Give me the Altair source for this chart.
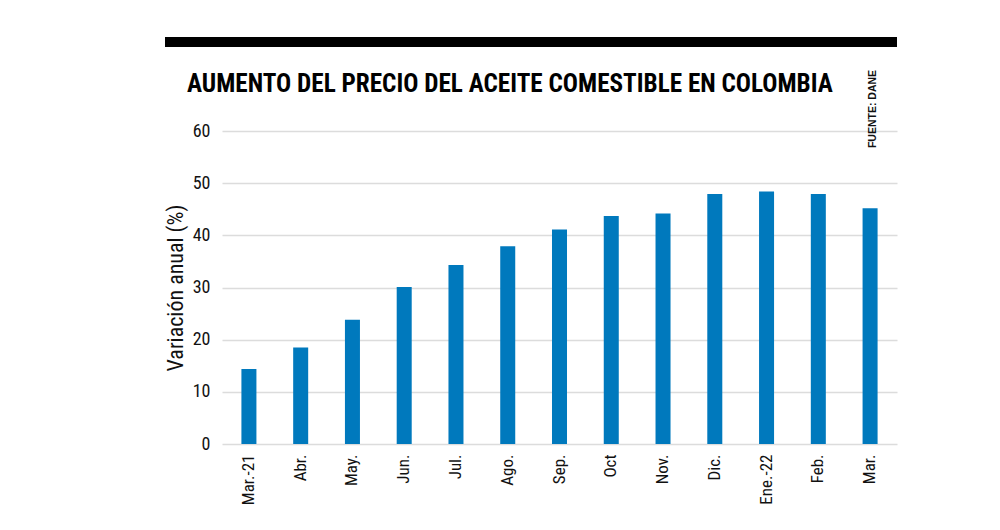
import altair as alt
import pandas as pd

months = ["Mar.-21", "Abr.", "May.", "Jun.", "Jul.", "Ago.", "Sep.", "Oct", "Nov.",
          "Dic.", "Ene.-22", "Feb.", "Mar."]
values = [14.4, 18.5, 23.8, 30.1, 34.3, 37.9, 41.1, 43.7, 44.2, 47.9, 48.4, 47.9, 45.2]
title_text = ["AUMENTO DEL PRECIO DEL ACEITE COMESTIBLE EN COLOMBIA"]
source_text = ["FUENTE: DANE"]
y_title = "Variación anual (%)"

df = pd.DataFrame({"mes": months, "valor": values})

COND = "Roboto Condensed"
BLUE = "#0079bd"

bars = alt.Chart(df).mark_bar(color=BLUE).encode(
    x=alt.X("mes:N", sort=months,
            scale=alt.Scale(paddingInner=0.71, paddingOuter=0.375),
            axis=alt.Axis(title=None, labelAngle=-90, labelFont=COND, labelFontSize=17,
                          labelColor="#111", labelPadding=10, ticks=False, domain=False,
                          labelBaseline="middle", labelAlign="right")),
    y=alt.Y("valor:Q", scale=alt.Scale(domain=[0, 60]),
            axis=alt.Axis(values=[0, 10, 20, 30, 40, 50, 60], title=y_title,
                          titleFont=COND, titleFontSize=22, titleFontWeight="normal",
                          titleColor="#111", titleAngle=270, titleBaseline="middle",
                          titleX=-47, labelFont=COND, labelFontSize=18, labelColor="#111",
                          labelPadding=12, ticks=False, domain=False,
                          gridColor="#dcdcdc", gridWidth=1.5)),
)

topbar = alt.Chart(pd.DataFrame({"k": [0]})).mark_rule(color="black", strokeWidth=10).encode(
    x=alt.value(-57), x2=alt.value(675), y=alt.value(-89)
)

title = alt.Chart(pd.DataFrame({"t": title_text})).mark_text(
    font=COND, fontWeight="bold", fontSize=25.2, color="#000", align="left",
    baseline="alphabetic"
).encode(text="t:N", x=alt.value(-35), y=alt.value(-39))

source = alt.Chart(pd.DataFrame({"t": source_text})).mark_text(
    angle=270, font="Liberation Sans", fontWeight="bold",
    fontSize=10.5, color="#111", align="center", baseline="middle"
).encode(text="t:N", x=alt.value(651), y=alt.value(-22))

chart = alt.layer(topbar, bars, title, source).properties(
    width=675, height=313,
    padding={"left": 214, "top": 123, "right": 95, "bottom": 75},
    autosize=alt.AutoSizeParams(type="none"),
    background="white",
).configure_view(stroke=None)

chart.save("out.html", embed_options={"renderer": "svg", "actions": False})
